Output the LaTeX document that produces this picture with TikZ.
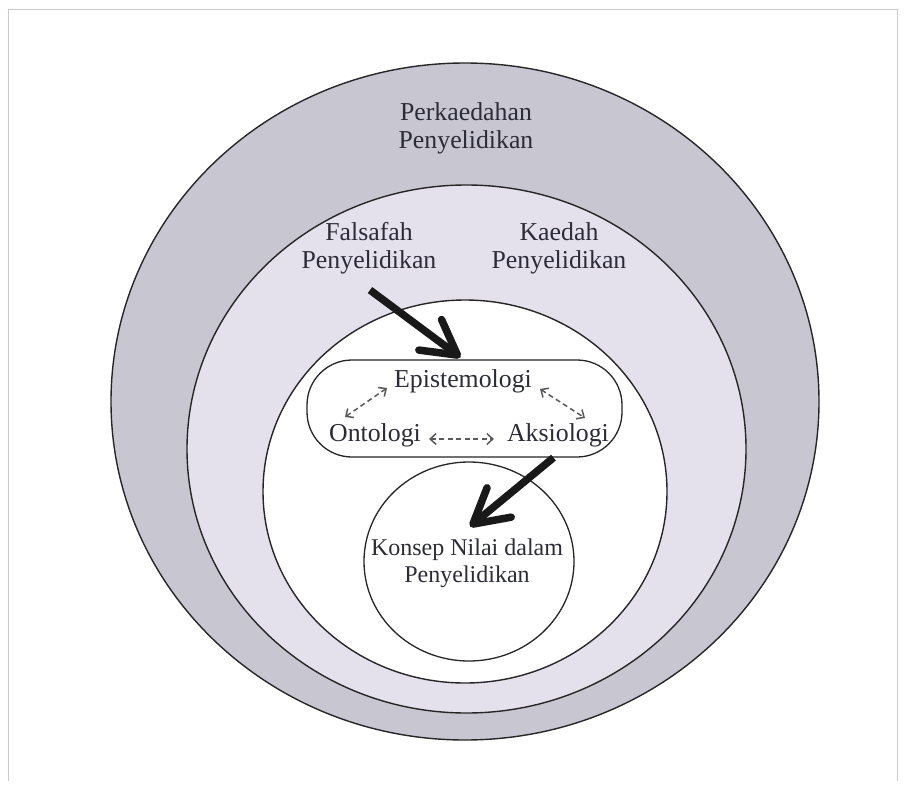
\documentclass[tikz,border=0pt]{standalone}
\usepackage{fontspec}
\setmainfont{Liberation Serif}
\usetikzlibrary{shapes.geometric,arrows.meta}
\definecolor{outerfill}{HTML}{C8C6D0}
\definecolor{midfill}{HTML}{E4E1EC}
\definecolor{txt}{HTML}{2C2C38}
\definecolor{framec}{HTML}{CFC8CF}
\tikzset{
  ring/.style={ellipse, draw=black!85, line width=1.4pt, inner sep=0pt},
  lbl/.style={text=txt, align=center, inner sep=3pt, font=\fontsize{25.8}{28}\selectfont},
  bigarrow/.style={line width=7.5pt, draw=black!90, -{Straight Barb[length=34pt,width=38pt,round]}},
  dasharrow/.style={draw=black!65, line width=1.5pt, dash pattern=on 5pt off 3.5pt,
    {Straight Barb[length=6pt,width=11pt]}-{Straight Barb[length=6pt,width=11pt]}}
}
\begin{document}
\begin{tikzpicture}[x=1pt,y=-1pt]
\useasboundingbox (0,0) rectangle (907,787);
% frame
\draw[framec, line width=1pt] (8,781) -- (8,9) -- (897,9) -- (897,781);
% rings
\node[ring, fill=outerfill, minimum width=708pt, minimum height=677pt] (outer) at (465,401.5) {};
\node[ring, fill=midfill, minimum width=559pt, minimum height=528pt] (middle) at (466.5,449) {};
\node[ring, fill=white, minimum width=404pt, minimum height=383pt] (inner) at (465,491.5) {};
\node[ring, fill=white, line width=1.3pt, minimum width=210pt, minimum height=199pt] (small) at (469,561.5) {};
\node[draw=black!85, fill=white, line width=1.3pt, rounded corners=45pt, minimum width=315pt, minimum height=97pt] (box) at (464.5,408.5) {};
% labels
\node[lbl] (perk) at (466,128) {Perkaedahan\\Penyelidikan};
\node[lbl] (fal) at (369,248) {Falsafah\\Penyelidikan};
\node[lbl] (kae) at (559,248) {Kaedah\\Penyelidikan};
\node[lbl] (epi) at (463,381) {Epistemologi};
\node[lbl] (ont) at (375,435) {Ontologi};
\node[lbl] (aks) at (558,435) {Aksiologi};
\node[lbl, font=\fontsize{24}{27}\selectfont] (kon) at (467,563) {Konsep Nilai dalam\\Penyelidikan};
% dashed links
\draw[dasharrow] ([shift={(-30,-18)}]ont.center) -- ([shift={(-4,7)}]epi.west);
\draw[dasharrow] ([shift={(5,8)}]epi.east) -- ([shift={(27,-17)}]aks.center);
\draw[dasharrow] ([shift={(5,4)}]ont.east) -- ([shift={(-10,4)}]aks.west);
% thick arrows
\coordinate (a1s) at ([shift={(1,13)}]fal.south);
\draw[bigarrow] (a1s) -- ([shift={(-4,-2)}]box.north);
\coordinate (a2s) at ([shift={(89,0)}]box.south);
\draw[bigarrow] (a2s) -- ([shift={(1,-35)}]small.center);
\end{tikzpicture}
\end{document}
